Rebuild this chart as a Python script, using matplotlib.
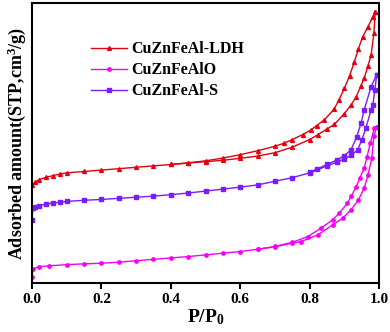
import matplotlib
matplotlib.use("Agg")
import matplotlib.pyplot as plt

plt.rcParams["font.family"] = ["Liberation Serif", "DejaVu Serif"]
plt.rcParams["font.weight"] = "bold"
plt.rcParams["mathtext.fontset"] = "custom"
plt.rcParams["mathtext.rm"] = "Liberation Serif:bold"
plt.rcParams["mathtext.it"] = "Liberation Serif:bold"
plt.rcParams["mathtext.bf"] = "Liberation Serif:bold"

# CuZnFeAl-LDH
ldh_ads_x = [0.0, 0.01, 0.02, 0.04, 0.06, 0.08, 0.1, 0.15, 0.2, 0.25, 0.3, 0.35, 0.4, 0.45,
             0.5, 0.55, 0.6, 0.65, 0.7, 0.75, 0.8, 0.823, 0.85, 0.871, 0.9, 0.919, 0.934,
             0.948, 0.957, 0.968, 0.977, 0.985, 0.989]
ldh_ads_y = [35.0, 36.0, 36.9, 37.7, 38.3, 38.9, 39.3, 39.8, 40.3, 40.8, 41.3, 41.8, 42.3, 42.8,
             43.3, 43.8, 44.5, 45.3, 46.5, 48.5, 51.2, 52.9, 55.0, 56.6, 60.5, 63.5, 66.5,
             70.5, 73.1, 77.5, 81.4, 89.2, 96.9]
ldh_des_x = [0.989, 0.982, 0.968, 0.953, 0.94, 0.929, 0.915, 0.9, 0.885, 0.87, 0.842, 0.82,
             0.803, 0.78, 0.75, 0.726, 0.7, 0.65, 0.6, 0.55, 0.5, 0.45, 0.4]
ldh_des_y = [96.9, 95.1, 91.5, 88.0, 83.5, 79.0, 74.0, 69.5, 65.5, 62.0, 58.2, 56.2,
             54.6, 53.0, 51.2, 49.9, 48.8, 47.2, 45.8, 44.6, 43.6, 42.9, 42.3]

# CuZnFeAlO
alo_ads_x = [0.0, 0.003, 0.02, 0.05, 0.1, 0.15, 0.2, 0.25, 0.3, 0.35, 0.4, 0.45, 0.5, 0.55,
             0.6, 0.65, 0.7, 0.75, 0.775, 0.823, 0.866, 0.895, 0.919, 0.94, 0.957, 0.968,
             0.979, 0.985, 0.993]
alo_ads_y = [2.0, 5.0, 5.8, 6.1, 6.5, 6.8, 7.0, 7.4, 7.9, 8.4, 8.9, 9.4, 10.0, 10.6,
             11.2, 12.0, 12.9, 14.2, 14.75, 17.1, 20.7, 23.1, 26.1, 29.5, 33.8, 38.5,
             44.5, 52.3, 55.8]
alo_des_x = [0.993, 0.986, 0.975, 0.965, 0.957, 0.945, 0.934, 0.92, 0.909, 0.885, 0.866,
             0.832, 0.794, 0.75, 0.7, 0.65]
alo_des_y = [55.8, 55.2, 50.0, 45.0, 41.0, 37.5, 34.4, 31.0, 28.5, 24.9, 22.5,
             19.5, 16.5, 14.5, 13.0, 12.0]

# CuZnFeAl-S
s_ads_x = [0.0, 0.003, 0.01, 0.02, 0.04, 0.06, 0.08, 0.1, 0.15, 0.2, 0.25, 0.3, 0.35, 0.4,
           0.45, 0.5, 0.55, 0.6, 0.65, 0.7, 0.75, 0.8, 0.85, 0.88, 0.9, 0.92, 0.938, 0.95,
           0.962, 0.977, 0.982, 0.988, 0.993]
s_ads_y = [22.5, 26.7, 27.2, 27.6, 28.1, 28.5, 28.8, 29.1, 29.5, 29.8, 30.2, 30.6, 31.0, 31.5,
           32.1, 32.8, 33.5, 34.2, 35.0, 36.3, 37.6, 39.3, 41.8, 43.2, 44.3, 45.6, 47.5, 51.0,
           55.3, 61.8, 63.6, 69.0, 74.3]
s_des_x = [0.993, 0.977, 0.957, 0.948, 0.935, 0.919, 0.9, 0.88, 0.85, 0.82, 0.8]
s_des_y = [74.3, 70.1, 61.8, 57.0, 52.0, 47.5, 45.5, 44.0, 42.3, 40.6, 39.6]

xticks = [0.0, 0.2, 0.4, 0.6, 0.8, 1.0]

c_ldh, c_alo, c_s = "#e3000f", "#f500f5", "#7a1cff"

fig = plt.figure(figsize=(3.9, 3.32), dpi=100)
ax = fig.add_axes([0.082, 0.148, 0.89, 0.843])

ms, lw = 2.4, 1.0
ax.plot(ldh_ads_x, ldh_ads_y, "-^", color=c_ldh, ms=ms + 0.4, lw=lw, label="CuZnFeAl-LDH")
ax.plot(ldh_des_x, ldh_des_y, "-^", color=c_ldh, ms=ms + 0.4, lw=lw)
ax.plot(alo_ads_x, alo_ads_y, "-o", color=c_alo, ms=ms, lw=lw, label="CuZnFeAlO")
ax.plot(alo_des_x, alo_des_y, "-o", color=c_alo, ms=ms, lw=lw)
ax.plot(s_ads_x, s_ads_y, "-s", color=c_s, ms=ms, lw=lw, label="CuZnFeAl-S")
ax.plot(s_des_x, s_des_y, "-s", color=c_s, ms=ms, lw=lw)

ax.set_xlim(0, 1.0)
ax.set_ylim(0, 100)
ax.set_xticks(xticks)
ax.set_xticklabels([f"{t:.1f}" for t in xticks], fontsize=11, fontweight="bold")
ax.set_yticks([])
ax.tick_params(axis="x", direction="out", length=4, width=1.5, pad=3)
for s in ax.spines.values():
    s.set_linewidth(1.5)

ax.set_xlabel("P/P$_0$", fontsize=14, fontweight="bold", labelpad=1)
ax.set_ylabel("Adsorbed amount(STP,cm$^3$/g)", fontsize=13, fontweight="bold", labelpad=3)

ax.legend(loc="upper left", bbox_to_anchor=(0.13, 0.915), frameon=False,
          handlelength=2.2, handletextpad=0.3, labelspacing=0.32,
          prop={"weight": "bold", "size": 11.5})

fig.savefig("out.png", dpi=100)
